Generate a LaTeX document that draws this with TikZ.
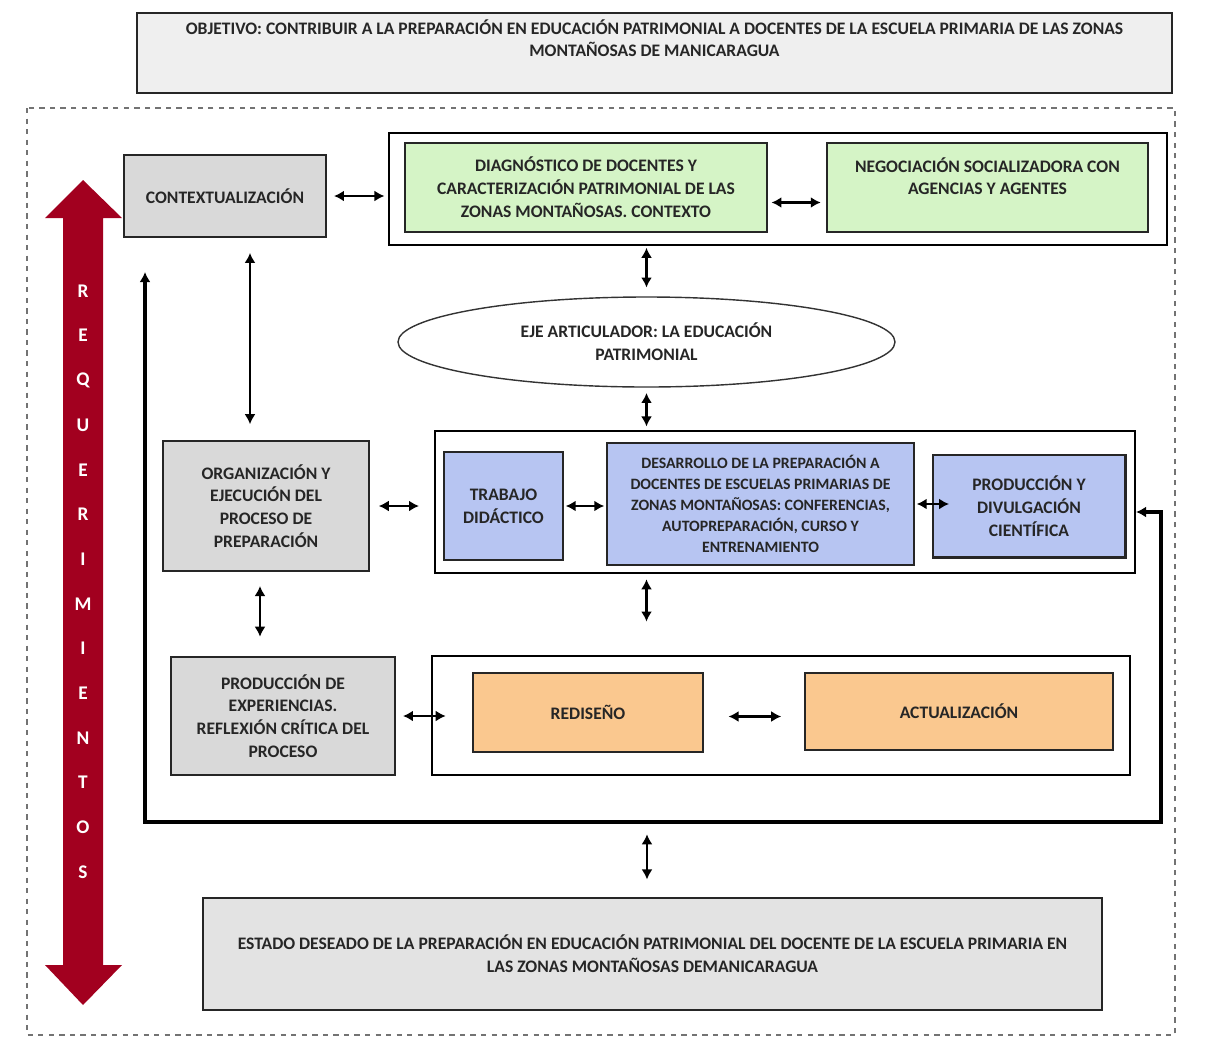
\documentclass[tikz,border=0pt]{standalone}
\usepackage{fontspec}
\setmainfont{Carlito}
\usetikzlibrary{arrows.meta,calc,shapes.geometric}
\definecolor{reqred}{HTML}{A2001F}
\definecolor{boxgrey}{HTML}{D9D9D9}
\definecolor{objgrey}{HTML}{EFEFEF}
\definecolor{endgrey}{HTML}{E3E3E3}
\definecolor{boxgreen}{HTML}{D5F4C6}
\definecolor{boxblue}{HTML}{B7C5F2}
\definecolor{boxorange}{HTML}{FAC88F}
\def\px{0.02}
\tikzstyle{boxframe}=[draw=black, line width=1.2pt, fill=white]
\tikzstyle{greybox}=[draw=black!85, line width=1.1pt, fill=boxgrey, align=center, text=black!85, font=\fontsize{10}{13}\selectfont\bfseries]
\tikzstyle{greenbox}=[greybox, fill=boxgreen]
\tikzstyle{bluebox}=[greybox, fill=boxblue]
\tikzstyle{orangebox}=[greybox, fill=boxorange]
\tikzstyle{ejebox}=[ellipse, draw=black!80, line width=0.8pt, fill=white, align=center, text=black!85, font=\fontsize{10}{13}\selectfont\bfseries]
\tikzstyle{link}=[{Latex[length=2mm,width=2.2mm]}-{Latex[length=2mm,width=2.2mm]}, line width=1.3pt]
\tikzstyle{feedback}=[link, line width=1.8pt]
\tikzstyle{reqletter}=[text=white, font=\fontsize{11}{11}\selectfont\bfseries, inner sep=0pt]
\newcommand{\boxat}[7][greybox]{% Syntax: [style] name x1 y1 x2 y2 text (in pixels)
\pgfmathsetmacro{\boxw}{(#5-#3)*\px}
\pgfmathsetmacro{\boxh}{(#6-#4)*\px}
\node[#1, minimum width=\boxw cm, minimum height=\boxh cm, inner sep=0pt] (#2) at ({(#3+#5)/2},{(#4+#6)/2}) {#7};
}
\begin{document}
\begin{tikzpicture}[x=0.02cm, y=-0.02cm]
\useasboundingbox (0,0) rectangle (1208,1052);
% objective and outer frame
\boxat[greybox, fill=objgrey]{obj}{137}{13}{1172}{93}{OBJETIVO:  CONTRIBUIR A LA PREPARACIÓN EN EDUCACIÓN PATRIMONIAL  A DOCENTES DE LA ESCUELA PRIMARIA DE LAS ZONAS\\MONTAÑOSAS  DE MANICARAGUA\\[4pt]}
\draw[dashed, black!55, line width=0.6pt] (27,108) rectangle (1175,1035);
% requerimientos
\fill[reqred] (83,180) -- (122,218) -- (103,218) -- (103,965) -- (122,965) -- (83,1005)
  -- (45,965) -- (63,965) -- (63,218) -- (45,218) -- cycle;
\foreach \ch [count=\i from 0] in {R,E,Q,U,E,R,I,M,I,E,N,T,O,S}
  \node[reqletter] (req\i) at (83,291+\i*44.7) {\ch};
% first row
\boxat{ctx}{124}{155}{326}{237}{CONTEXTUALIZACIÓN}
\boxat[boxframe]{greenfr}{389}{133}{1167}{245}{}
\boxat[greenbox]{diag}{405}{143}{767}{232}{DIAGNÓSTICO DE DOCENTES Y\\CARACTERIZACIÓN  PATRIMONIAL  DE LAS\\ZONAS MONTAÑOSAS.  CONTEXTO}
\boxat[greenbox]{nego}{827}{143}{1148}{232}{NEGOCIACIÓN  SOCIALIZADORA  CON\\AGENCIAS  Y  AGENTES\\\mbox{}}
\boxat[ejebox]{eje}{398}{297}{895}{387}{EJE ARTICULADOR: LA EDUCACIÓN\\PATRIMONIAL}
% second row
\boxat{org}{163}{441}{369}{571}{ORGANIZACIÓN  Y\\EJECUCIÓN  DEL\\PROCESO DE\\PREPARACIÓN}
\boxat[boxframe]{bluefr}{435}{431}{1135}{573}{}
\boxat[bluebox]{trab}{444}{452}{563}{560}{TRABAJO\\DIDÁCTICO}
\boxat[bluebox, font=\fontsize{9}{12}\selectfont\bfseries]{desa}{607}{443}{914}{565}{DESARROLLO DE LA PREPARACIÓN A\\DOCENTES DE ESCUELAS PRIMARIAS DE\\ZONAS MONTAÑOSAS:  CONFERENCIAS,\\AUTOPREPARACIÓN, CURSO Y\\ENTRENAMIENTO}
\boxat[bluebox, line width=1.7pt]{prod}{933}{455}{1125}{557}{PRODUCCIÓN Y\\DIVULGACIÓN\\CIENTÍFICA}
% third row
\boxat{exp}{171}{657}{395}{775}{PRODUCCIÓN DE\\EXPERIENCIAS.\\REFLEXIÓN  CRÍTICA  DEL\\PROCESO}
\boxat[boxframe]{orangefr}{432}{656}{1130}{775}{}
\boxat[orangebox]{redis}{473}{673}{703}{752}{REDISEÑO}
\boxat[orangebox]{act}{805}{673}{1113}{750}{ACTUALIZACIÓN}
% desired state
\boxat[greybox, fill=endgrey]{final}{203}{898}{1102}{1010}{ESTADO DESEADO DE LA PREPARACIÓN EN EDUCACIÓN PATRIMONIAL DEL DOCENTE DE LA ESCUELA PRIMARIA EN\\LAS ZONAS MONTAÑOSAS DEMANICARAGUA}
% connectors
\draw[link, shorten <=4pt, shorten >=2pt] (ctx.east) -- (ctx.east -| greenfr.west);
\draw[link, shorten <=2pt, shorten >=3pt] ([yshift=-0.3cm]diag.east) -- ([yshift=-0.3cm]diag.east -| nego.west);
\draw[link, shorten <=1pt, shorten >=5pt] (eje.north |- greenfr.south) -- (eje.north);
\draw[link, shorten <=3pt, shorten >=2pt] (eje.south) -- (eje.south |- bluefr.north);
\draw[link, shorten <=8.5pt, shorten >=9pt] ([xshift=0.5cm]ctx.south) -- ([xshift=0.5cm]ctx.south |- org.north);
\draw[link, shorten <=5pt, shorten >=8.5pt] (org.east) -- (org.east -| bluefr.west);
\draw[link, shorten <=1pt, shorten >=1pt] (trab.east) -- (trab.east -| desa.west);
\draw[link, shorten <=1pt, shorten >=-10pt] (desa.east) -- (desa.east -| prod.west);
\draw[link, shorten <=8pt, shorten >=11pt] ([xshift=-0.12cm]org.south) -- ([xshift=-0.12cm]org.south |- exp.north);
\draw[link, shorten <=3pt, shorten >=19pt] (eje.south |- bluefr.south) -- (eje.south |- orangefr.north);
\draw[link, shorten <=4pt, shorten >=15pt] (exp.east) -- (exp.east -| redis.west);
\draw[link, shorten <=14pt, shorten >=13pt] ([yshift=-0.08cm]redis.east) -- ([yshift=-0.08cm]redis.east -| act.west);
% feedback loop
\coordinate (fbend) at (145,272);
\coordinate (loopmid) at (647,822);
\draw[feedback] ([yshift=-0.2cm]bluefr.east) -- ++(25,0) |- (loopmid) -| (fbend);
\draw[link, shorten <=7pt, shorten >=10pt] (loopmid) -- (loopmid |- final.north);
\end{tikzpicture}
\end{document}
